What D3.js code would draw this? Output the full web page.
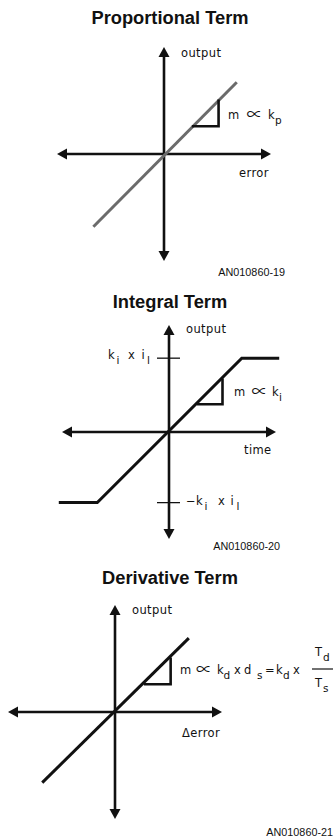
<!DOCTYPE html>
<html><head><meta charset="utf-8">
<script src="https://cdn.jsdelivr.net/npm/d3@7"></script>
<style>
html,body{margin:0;padding:0;background:#fff;}
svg{display:block;}
.title{font-family:"Liberation Sans",Arial,sans-serif;font-weight:bold;font-size:18.3px;fill:#111;}
.lbl{font-family:"DejaVu Sans",sans-serif;font-size:11.5px;fill:#111;letter-spacing:0.4px;}
.eq{font-family:"DejaVu Sans",sans-serif;font-size:11.5px;fill:#111;}
.prop{font-family:"Noto Sans CJK JP","Noto Sans CJK SC",sans-serif;}
.code{font-family:"Liberation Sans",Arial,sans-serif;font-size:10.8px;fill:#111;}
</style></head>
<body>
<script>
// ---- data (unit coordinates; axes span -1..1) ----
const panelTitles = ["Proportional Term", "Integral Term", "Derivative Term"];
const figureCodes = ["AN010860-19", "AN010860-20", "AN010860-21"];
const yAxisLabel = "output";
const xAxisLabels = ["error", "time", "\u0394error"];
const propCurveX = [-0.66, 0.68];
const propCurveY = [-0.68, 0.67];
const propSlopeX = [0.26, 0.51, 0.51];
const propSlopeY = [0.26, 0.26, 0.51];
const intCurveX = [-1.03, -0.67, 0.68, 1.03];
const intCurveY = [-0.66, -0.66, 0.69, 0.69];
const intSlopeX = [0.26, 0.50, 0.50];
const intSlopeY = [0.26, 0.26, 0.50];
const intLimitTicks = [0.69, -0.66];
const derCurveX = [-0.68, 0.69];
const derCurveY = [-0.66, 0.69];
const derSlopeX = [0.27, 0.52, 0.52];
const derSlopeY = [0.26, 0.26, 0.51];

const W = 335, H = 838;
const svg = d3.select("body").append("svg").attr("width", W).attr("height", H);

function pts(xs, ys){ return xs.map((x,i)=>({x, y: ys[i]})); }

function panel(cfg){
  const k = 107;
  const x = d3.scaleLinear().domain([-1,1]).range([cfg.ox-k, cfg.ox+k]);
  const y = d3.scaleLinear().domain([-1,1]).range([cfg.oy+k, cfg.oy-k]);
  const g = svg.append("g");
  g.append("text").attr("class","title").attr("x", 170).attr("y", cfg.titleY)
    .attr("text-anchor","middle").text(cfg.title);
  const ax = g.append("g");
  const al = 10, aw = 5.5;
  ax.append("line").attr("x1", x(-1)+al-1).attr("x2", x(1)-al+1).attr("y1", y(0)).attr("y2", y(0))
    .attr("stroke","#111").attr("stroke-width",2.6);
  ax.append("line").attr("y1", y(1)+al-1).attr("y2", y(-1)-al+1).attr("x1", x(0)).attr("x2", x(0))
    .attr("stroke","#111").attr("stroke-width",2.6);
  const tri = (px,py,dx,dy)=>{
    const bx = px - dx*al, by = py - dy*al;
    return `M${px},${py}L${bx - dy*aw},${by + dx*aw}L${bx + dy*aw},${by - dx*aw}Z`;
  };
  ax.append("path").attr("d", tri(x(1), y(0), 1, 0)).attr("fill","#111");
  ax.append("path").attr("d", tri(x(-1), y(0), -1, 0)).attr("fill","#111");
  ax.append("path").attr("d", tri(x(0), y(1), 0, -1)).attr("fill","#111");
  ax.append("path").attr("d", tri(x(0), y(-1), 0, 1)).attr("fill","#111");
  (cfg.ticks||[]).forEach(t=>{
    ax.append("line").attr("x1", x(0)-12).attr("x2", x(0)+11).attr("y1", y(t)).attr("y2", y(t))
      .attr("stroke","#111").attr("stroke-width",1.3);
  });
  const line = d3.line().x(d=>x(d.x)).y(d=>y(d.y));
  g.append("path").attr("d", line(cfg.curve)).attr("fill","none")
    .attr("stroke", cfg.curveColor).attr("stroke-width", 3).attr("stroke-linejoin","miter");
  g.append("path").attr("d", line(cfg.slope)).attr("fill","none")
    .attr("stroke", "#111").attr("stroke-width", 2.6).attr("stroke-linejoin","miter");
  g.append("text").attr("class","lbl").attr("x", x(0)+17).attr("y", cfg.outY).text(yAxisLabel);
  g.append("text").attr("class","lbl").attr("x", cfg.xlblX).attr("y", cfg.xlblY).text(cfg.xlbl);
  g.append("text").attr("class","code").attr("x", cfg.codeX).attr("y", cfg.codeY)
    .attr("text-anchor","end").text(cfg.code);
  return g;
}

// pieces: [text, x, isSub, bigSymbol]
function eq(g, baseline, pieces){
  const t = g.append("text").attr("class","eq").attr("y", baseline);
  pieces.forEach(p=>{
    const s = t.append("tspan").attr("x", p[1]).attr("y", baseline + (p[2] ? 4.5 : 0)).text(p[0]);
    if (p[2]) s.attr("font-size","10.5px");
    if (p[3]) s.attr("class","prop").attr("font-size","16px").attr("y", baseline + 0.5);
  });
  return t;
}

// Panel 1
const g1 = panel({ox:164, oy:154, title:panelTitles[0], titleY:24, curve:pts(propCurveX,propCurveY),
  curveColor:"#6b6b6b", slope:pts(propSlopeX,propSlopeY), outY:57, xlbl:xAxisLabels[0], xlblX:239, xlblY:177,
  code:figureCodes[0], codeX:285, codeY:276});
eq(g1, 119, [["m",228],["\u221D",246.5,false,true],["k",268],["p",275,true]]);

// Panel 2
const g2 = panel({ox:169, oy:432, title:panelTitles[1], titleY:308, curve:pts(intCurveX,intCurveY),
  curveColor:"#111", slope:pts(intSlopeX,intSlopeY), ticks:intLimitTicks, outY:333, xlbl:xAxisLabels[1], xlblX:244, xlblY:454,
  code:figureCodes[1], codeX:280, codeY:550});
eq(g2, 396, [["m",234],["\u221D",251.5,false,true],["k",272],["i",279,true]]);
eq(g2, 359, [["k",108],["i",116.5,true],["x",128],["i",141.5],["l",147,true]]);
eq(g2, 505, [["\u2212",186],["k",196],["i",204.5,true],["x",218],["i",230.5],["l",236.5,true]]);

// Panel 3
const g3 = panel({ox:115, oy:712, title:panelTitles[2], titleY:584, curve:pts(derCurveX,derCurveY),
  curveColor:"#111", slope:pts(derSlopeX,derSlopeY), outY:614, xlbl:xAxisLabels[2], xlblX:182, xlblY:737,
  code:figureCodes[2], codeX:333, codeY:836});
eq(g3, 674, [["m",180],["\u221D",196,false,true],["k",217],["d",223.5,true],["x",234],["d",244],["s",257,true],
  ["=",265],["k",276],["d",283,true],["x",293]]);
g3.append("line").attr("x1",312).attr("x2",333).attr("y1",669).attr("y2",669).attr("stroke","#111").attr("stroke-width",1.2);
eq(g3, 656, [["T",315],["d",323,true]]);
eq(g3, 687, [["T",315],["s",323,true]]);
</script>
</body></html>
